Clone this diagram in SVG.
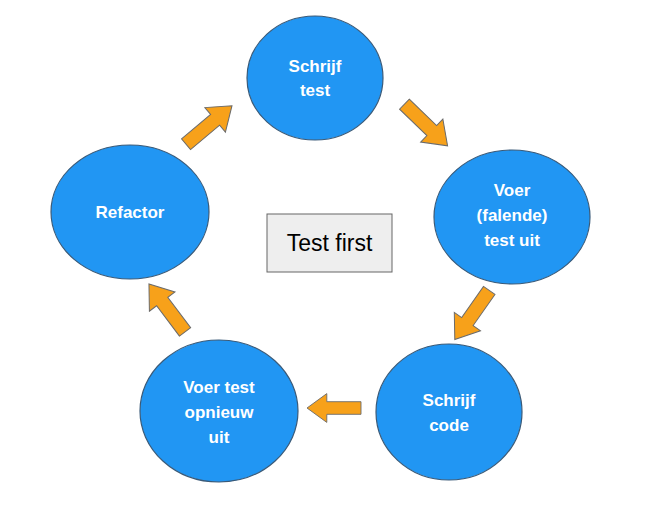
<svg xmlns="http://www.w3.org/2000/svg" width="647" height="505" viewBox="0 0 647 505">
<style>
.n{fill:#2196F3;stroke:#3a5a78;stroke-width:1.2}
.t{font-family:"Liberation Sans",Arial,sans-serif;font-weight:bold;font-size:17px;fill:#fff;text-anchor:middle}
.a{fill:#F7A11A;stroke:#6b6b6b;stroke-width:1}
</style>
<defs><path id="arr" d="M-30,-7 L8,-7 L8,-16 L30,0 L8,16 L8,7 L-30,7 Z"/></defs>
<rect width="647" height="505" fill="#fff"/>
<g id="connectors">
<use href="#arr" class="a" transform="translate(209,125) rotate(-40)"/>
<use href="#arr" class="a" transform="translate(426,125) rotate(44)"/>
<use href="#arr" class="a" transform="translate(472,315) rotate(125)"/>
<use href="#arr" class="a" transform="translate(334,408) rotate(180) scale(0.9)"/>
<use href="#arr" class="a" transform="translate(167,308) rotate(233)"/>
</g>
<g id="schrijf-test"><ellipse class="n" cx="315" cy="78" rx="68" ry="62"/><text class="t" x="315" y="72">Schrijf</text><text class="t" x="315" y="96">test</text></g>
<g id="voer-falende"><ellipse class="n" cx="512" cy="217" rx="78" ry="67"/><text class="t" x="512" y="196">Voer</text><text class="t" x="512" y="221">(falende)</text><text class="t" x="512" y="246">test uit</text></g>
<g id="schrijf-code"><ellipse class="n" cx="449" cy="412" rx="73" ry="68"/><text class="t" x="449" y="406">Schrijf</text><text class="t" x="449" y="431">code</text></g>
<g id="voer-opnieuw"><ellipse class="n" cx="219" cy="411" rx="79" ry="71"/><text class="t" x="219" y="393">Voer test</text><text class="t" x="219" y="418">opnieuw</text><text class="t" x="219" y="443">uit</text></g>
<g id="refactor"><ellipse class="n" cx="130" cy="212" rx="79" ry="67"/><text class="t" x="130" y="218">Refactor</text></g>
<g id="test-first"><rect x="267" y="214" width="125" height="58" fill="#eeeeee" stroke="#666" stroke-width="1"/><text x="329.5" y="251" font-family="Liberation Sans,Arial,sans-serif" font-size="23" text-anchor="middle" fill="#000">Test first</text></g>
</svg>
